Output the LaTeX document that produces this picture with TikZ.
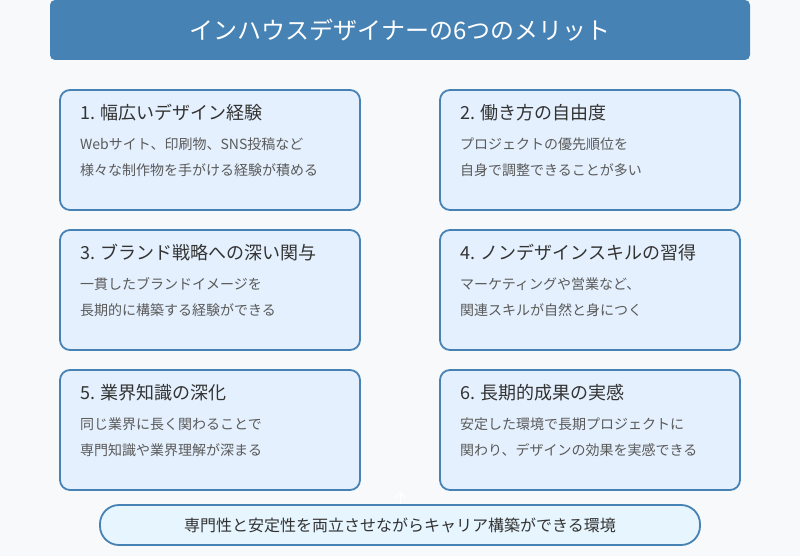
\documentclass[tikz,border=0pt]{standalone}
\usepackage{fontspec}
\setmainfont{Noto Sans CJK JP}
\usetikzlibrary{arrows.meta}
\definecolor{bgc}{HTML}{F7F9FB}
\definecolor{steel}{HTML}{4682B4}
\definecolor{boxfill}{HTML}{E4F0FD}
\definecolor{botfill}{HTML}{E6F5FE}
\definecolor{ttext}{HTML}{333333}
\definecolor{btext}{HTML}{5A5A5A}
\tikzset{
  card/.style={draw=steel, line width=1.8pt, fill=boxfill, rounded corners=10pt, minimum width=300pt, minimum height=120pt, inner sep=0pt},
  cardtitle/.style={anchor=west, text=ttext, font=\fontsize{18}{20}\selectfont, inner sep=0pt},
  cardbody/.style={anchor=west, text=btext, font=\fontsize{14}{26}\selectfont, align=left, inner sep=0pt},
}
\begin{document}
\begin{tikzpicture}[x=1pt,y=-1pt]
\fill[bgc] (0,0) rectangle (800,556);
\useasboundingbox (0,0) rectangle (800,556);
\node[fill=steel, rounded corners=5pt, minimum width=700pt, minimum height=60pt, inner sep=0pt] (title) at (400,30) {};
\node[text=white, font=\fontsize{24}{27}\selectfont] (titletext) at (400,30) {インハウスデザイナーの6つのメリット};

\node[card] (c1) at (210,150) {};
\node[card] (c2) at (590,150) {};
\node[card] (c3) at (210,290) {};
\node[card] (c4) at (590,290) {};
\node[card] (c5) at (210,430) {};
\node[card] (c6) at (590,430) {};

\node[cardtitle] (t1) at (80,113) {1. 幅広いデザイン経験};
\node[cardbody] (b1) at (80,157) {Webサイト、印刷物、SNS投稿など\\様々な制作物を手がける経験が積める};
\node[cardtitle] (t2) at (460,113) {2. 働き方の自由度};
\node[cardbody] (b2) at (460,157) {プロジェクトの優先順位を\\自身で調整できることが多い};
\node[cardtitle] (t3) at (80,253) {3. ブランド戦略への深い関与};
\node[cardbody] (b3) at (80,297) {一貫したブランドイメージを\\長期的に構築する経験ができる};
\node[cardtitle] (t4) at (460,253) {4. ノンデザインスキルの習得};
\node[cardbody] (b4) at (460,297) {マーケティングや営業など、\\関連スキルが自然と身につく};
\node[cardtitle] (t5) at (80,393) {5. 業界知識の深化};
\node[cardbody] (b5) at (80,437) {同じ業界に長く関わることで\\専門知識や業界理解が深まる};
\node[cardtitle] (t6) at (460,393) {6. 長期的成果の実感};
\node[cardbody] (b6) at (460,437) {安定した環境で長期プロジェクトに\\関わり、デザインの効果を実感できる};

\node[draw=steel, line width=1.8pt, fill=botfill, rounded corners=19pt, minimum width=600pt, minimum height=40pt, inner sep=0pt, text=ttext, font=\fontsize{16}{18}\selectfont] (bottom) at (400,525) {専門性と安定性を両立させながらキャリア構築ができる環境};
\coordinate (arrtop) at (400,492);
\draw[white, line width=1pt, -{Straight Barb[length=5pt,width=12pt]}] (bottom.north) -- (arrtop);
\end{tikzpicture}
\end{document}
